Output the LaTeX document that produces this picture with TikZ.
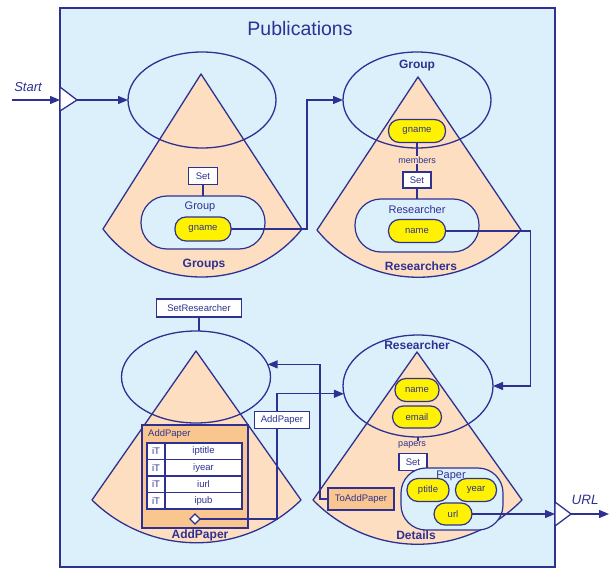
\documentclass[tikz,border=0pt]{standalone}
\usepackage{fontspec}
\setmainfont{Liberation Sans}
\usetikzlibrary{arrows.meta,shapes.geometric}
\definecolor{navy}{HTML}{2E3192}
\definecolor{skyfill}{HTML}{DCF0FB}
\definecolor{peach}{HTML}{FDDEC0}
\definecolor{pillyellow}{HTML}{FFF200}
\definecolor{boxorange}{HTML}{FAC690}
\tikzset{
  line/.style={draw=navy,line width=1.3pt},
  flow/.style={line,-{Triangle[length=10pt,width=8pt]}},
  cone/.style={line,fill=peach,line join=round},
  scope/.style={ellipse,draw=navy,line width=1.3pt,inner sep=0,outer sep=0},
  pill/.style={draw=navy,line width=1.2pt,fill=pillyellow,rounded corners=11pt,
    inner sep=0,outer sep=0,text=navy,font=\fontsize{9.5}{11}\selectfont},
  holder/.style={draw=navy,line width=1.2pt,fill=skyfill,inner sep=0,outer sep=0},
  tag/.style={draw=navy,line width=1.1pt,fill=white,inner sep=0,outer sep=0,
    text=navy,font=\fontsize{9.5}{11}\selectfont},
  small/.style={text=navy,inner sep=0,font=\fontsize{9}{10}\selectfont},
  mid/.style={text=navy,inner sep=0,font=\fontsize{11}{13}\selectfont},
  bold/.style={text=navy,inner sep=0,font=\fontsize{12}{14}\selectfont\bfseries},
  cell/.style={draw=navy,line width=1.1pt,fill=white,inner sep=0,outer sep=0,
    minimum height=16.5pt,text=navy,font=\fontsize{9.5}{11}\selectfont},
}
\begin{document}
\begin{tikzpicture}[x=1pt,y=-1pt]
\useasboundingbox (0,0) rectangle (609,569);

% outer component
\node[line,fill=skyfill,minimum width=495pt,minimum height=559pt,inner sep=0,outer sep=0]
  (frame) at (307.5,287.5) {};
\node[text=navy,font=\fontsize{19.5}{22}\selectfont] (title) at (300,29) {Publications};

% entry port
\coordinate (startpt) at (12,100);
\coordinate (inL) at (60,100);
\coordinate (inR) at (77,100);
\draw[line,fill=white,line join=round] (60,87) -- (inR) -- (60,111) -- cycle;
\node[text=navy,font=\fontsize{13}{15}\selectfont\itshape] (starttxt) at (28,87) {Start};

% exit port
\coordinate (outL) at (555,514);
\coordinate (outR) at (571,514);
\coordinate (endpt) at (609,514);
\draw[line,fill=white,line join=round] (555,502) -- (outR) -- (555,526) -- cycle;
\node[text=navy,font=\fontsize{13.5}{15}\selectfont\itshape] (urltxt) at (585,500) {URL};

% cones
\draw[cone] (201,74) -- (302,229) .. controls (251,293) and (151,293) .. (103,229) -- cycle;
\draw[cone] (418,77) -- (521,230) .. controls (468,293) and (368,293) .. (317,230) -- cycle;
\draw[cone] (196,351) -- (301,500) .. controls (243,557) and (150,557) .. (92,500) -- cycle;
\draw[cone] (417,352) -- (522,500) .. controls (464,559) and (371,559) .. (313,500) -- cycle;

% context ellipses
\node[scope,minimum width=148pt,minimum height=96pt] (E1) at (202,100) {};
\node[scope,minimum width=148pt,minimum height=96pt] (E2) at (417,100) {};
\node[scope,minimum width=149pt,minimum height=92pt] (E3) at (196,377) {};
\node[scope,minimum width=150pt,minimum height=102pt] (E4) at (418,386) {};

% Groups
\node[holder,rounded corners=26pt,minimum width=124pt,minimum height=53pt] (grp1) at (203,222.5) {};
\node[mid] (grp1lbl) at (200,207) {Group};
\node[pill,minimum width=56pt,minimum height=24pt] (gname1) at (203,229) {gname};
\node[tag,minimum width=29pt,minimum height=17pt] (set1) at (203,176) {Set};
\draw[line,line width=1.1pt] (set1) -- (grp1);
\node[bold] (groups) at (204,265) {Groups};

% Researchers
\node[bold] (grp2lbl) at (417,66) {Group};
\node[pill,minimum width=57pt,minimum height=23pt] (gname2) at (417,131) {gname};
\node[small] (members) at (417,160) {members};
\node[tag,minimum width=28pt,minimum height=16pt] (set2) at (417,180) {Set};
\node[holder,rounded corners=26pt,minimum width=124pt,minimum height=53pt] (res2) at (417,225.5) {};
\draw[line,line width=1.1pt] (gname2) -- (members);
\draw[line,line width=1.1pt] (members) -- (set2);
\draw[line,line width=1.1pt] (set2) -- (res2);
\node[mid] (res2lbl) at (417,210) {Researcher};
\node[pill,minimum width=57pt,minimum height=23pt] (name2) at (417,231) {name};
\node[bold] (researchers) at (421,266) {Researchers};

% AddPaper
\node[tag,minimum width=85pt,minimum height=18pt] (setres) at (199,308) {SetResearcher};
\draw[line] (setres) -- (setres |- E3.north);
\node[draw=navy,line width=1.2pt,fill=boxorange,minimum width=106pt,minimum height=103pt,inner sep=0]
  (addbox) at (195,476.5) {};
\node[small,anchor=west,font=\fontsize{9.5}{11}\selectfont] (addlbl) at (148,434) {AddPaper};
\foreach \y/\t [count=\i] in {451.25/iptitle,467.75/iyear,484.25/iurl,500.75/ipub}{
  \node[cell,minimum width=18pt] (it\i) at (156,\y) {iT};
  \node[cell,minimum width=77pt] (in\i) at (203.5,\y) {\t};
}
\node[diamond,draw=navy,line width=1.1pt,fill=white,inner sep=0,outer sep=0,minimum size=10pt]
  (dia) at (195,519) {};
\node[bold] (addpaper) at (200,535) {AddPaper};

% Details
\node[bold] (res4lbl) at (417,345) {Researcher};
\node[pill,minimum width=44pt,minimum height=23pt] (name4) at (417,390) {name};
\node[pill,minimum width=49pt,minimum height=22pt] (email4) at (417,417) {email};
\node[small] (papers) at (412,445) {papers};
\draw[line,line width=1.1pt] (E4.south) -- (E4.south |- papers.north);
\node[tag,minimum width=28pt,minimum height=17pt] (set4) at (413,462) {Set};
\draw[line,line width=1.1pt] (set4.south) -- ++(0,7);
\node[holder,rounded corners=25pt,minimum width=102pt,minimum height=62pt] (paper) at (452,499) {};
\node[mid] (paperlbl) at (451,476) {Paper};
\node[pill,minimum width=42pt,minimum height=23pt] (ptitle) at (428,490) {ptitle};
\node[pill,minimum width=41pt,minimum height=23pt] (year) at (476,490) {year};
\node[pill,minimum width=38pt,minimum height=22pt] (url) at (453,514) {url};
\node[bold] (details) at (416,535) {Details};
\node[draw=navy,line width=1.2pt,fill=boxorange,minimum width=66pt,minimum height=22pt,inner sep=0,outer sep=0,
  text=navy,font=\fontsize{9.5}{11}\selectfont] (toadd) at (361,499) {ToAddPaper};

% connectors
\draw[flow] (startpt) -- (inL);
\draw[flow] (inR) -- (E1.west);
\draw[flow] (gname1.east) -- ++(76,0) |- (E2.west);
\draw[flow] (name2.east) -- ++(85,0) |- (E4.east);
\draw[flow] (dia.east) -- ++(77,0) |- (E4.186);
\draw[flow] (toadd.west) -- ++(-8,0) |- (E3.10);
\draw[flow] (url.east) -- (outL);
\draw[flow] (outR) -- (endpt);
\node[tag,minimum width=55pt,minimum height=17pt] (addtag) at (282,420) {AddPaper};
\end{tikzpicture}
\end{document}
